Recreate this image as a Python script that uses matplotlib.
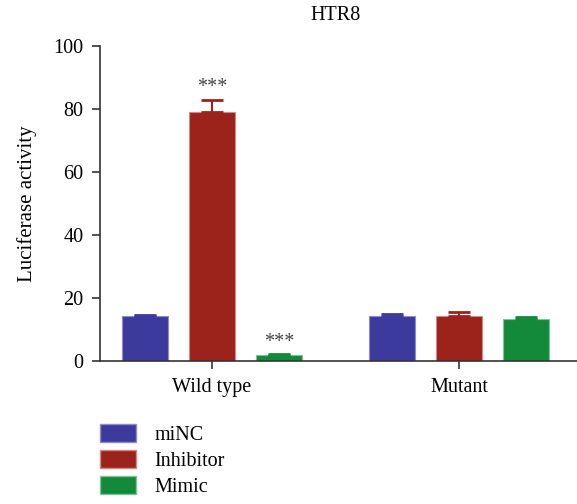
import matplotlib
matplotlib.use("Agg")
import matplotlib.pyplot as plt
import numpy as np
from matplotlib.patches import Patch

plt.rcParams['font.family'] = ['Liberation Serif', 'DejaVu Serif']

groups = ["Wild type", "Mutant"]
series = ["miNC", "Inhibitor", "Mimic"]
values = {
    "miNC": [14.3, 14.3],
    "Inhibitor": [78.9, 14.3],
    "Mimic": [2.0, 13.3],
}
errors = {
    "miNC": [0.4, 0.5],
    "Inhibitor": [4.1, 1.1],
    "Mimic": [0.2, 0.7],
}
stars = {
    "miNC": ["", ""],
    "Inhibitor": ["***", ""],
    "Mimic": ["***", ""],
}
colors = {"miNC": "#3C3A9C", "Inhibitor": "#9C221C", "Mimic": "#128A3A"}
edges = {"miNC": "#8E8CCB", "Inhibitor": "#D08A86", "Mimic": "#7CC496"}

FS = 14.5

fig = plt.figure(figsize=(5.77, 5.04), dpi=100)
ax = fig.add_axes([100/577, 1-361/504, 1-100/577, (361-46)/504])

x = np.arange(len(groups))
width = 0.186
offset = 0.271
for i, s in enumerate(series):
    xs = x + (i - 1) * offset
    ax.bar(xs, values[s], width=width, color=colors[s], edgecolor=edges[s], linewidth=0.8, zorder=2)
    ax.errorbar(xs, values[s], yerr=[np.zeros(len(groups)), errors[s]], fmt='none',
                ecolor=colors[s], elinewidth=1.5, capsize=8, capthick=2, zorder=3)
    for xi, v, e, st in zip(xs, values[s], errors[s], stars[s]):
        if st:
            ax.text(xi, v + e + 0.8, st, ha='center', va='bottom', fontsize=FS, color='#444444')

ax.set_xlim(-0.453, 1.478)
ax.set_ylim(0, 100)
ax.set_yticks([0, 20, 40, 60, 80, 100])
ax.set_xticks(x)
ax.set_xticklabels(groups)
ax.set_ylabel("Luciferase activity", fontsize=15, labelpad=12)
ax.tick_params(axis='both', labelsize=FS, direction='out', length=6, width=1.2, color='#333333')
ax.tick_params(axis='y', pad=6)
ax.tick_params(axis='x', pad=6)
for sp in ['top', 'right']:
    ax.spines[sp].set_visible(False)
for sp in ['left', 'bottom']:
    ax.spines[sp].set_linewidth(1.2)
    ax.spines[sp].set_color('#333333')

fig.text(336/577, 1-15/504, "HTR8", ha='center', va='center', fontsize=FS)

handles = [Patch(facecolor=colors[s], edgecolor=edges[s]) for s in series]
fig.legend(handles, series, loc='upper left', bbox_to_anchor=(100/577, 1-424/504),
           frameon=False, fontsize=FS, handlelength=1.8, handleheight=1.0,
           labelspacing=0.25, handletextpad=0.9, borderaxespad=0, borderpad=0)

fig.savefig("out.png", dpi=100)
